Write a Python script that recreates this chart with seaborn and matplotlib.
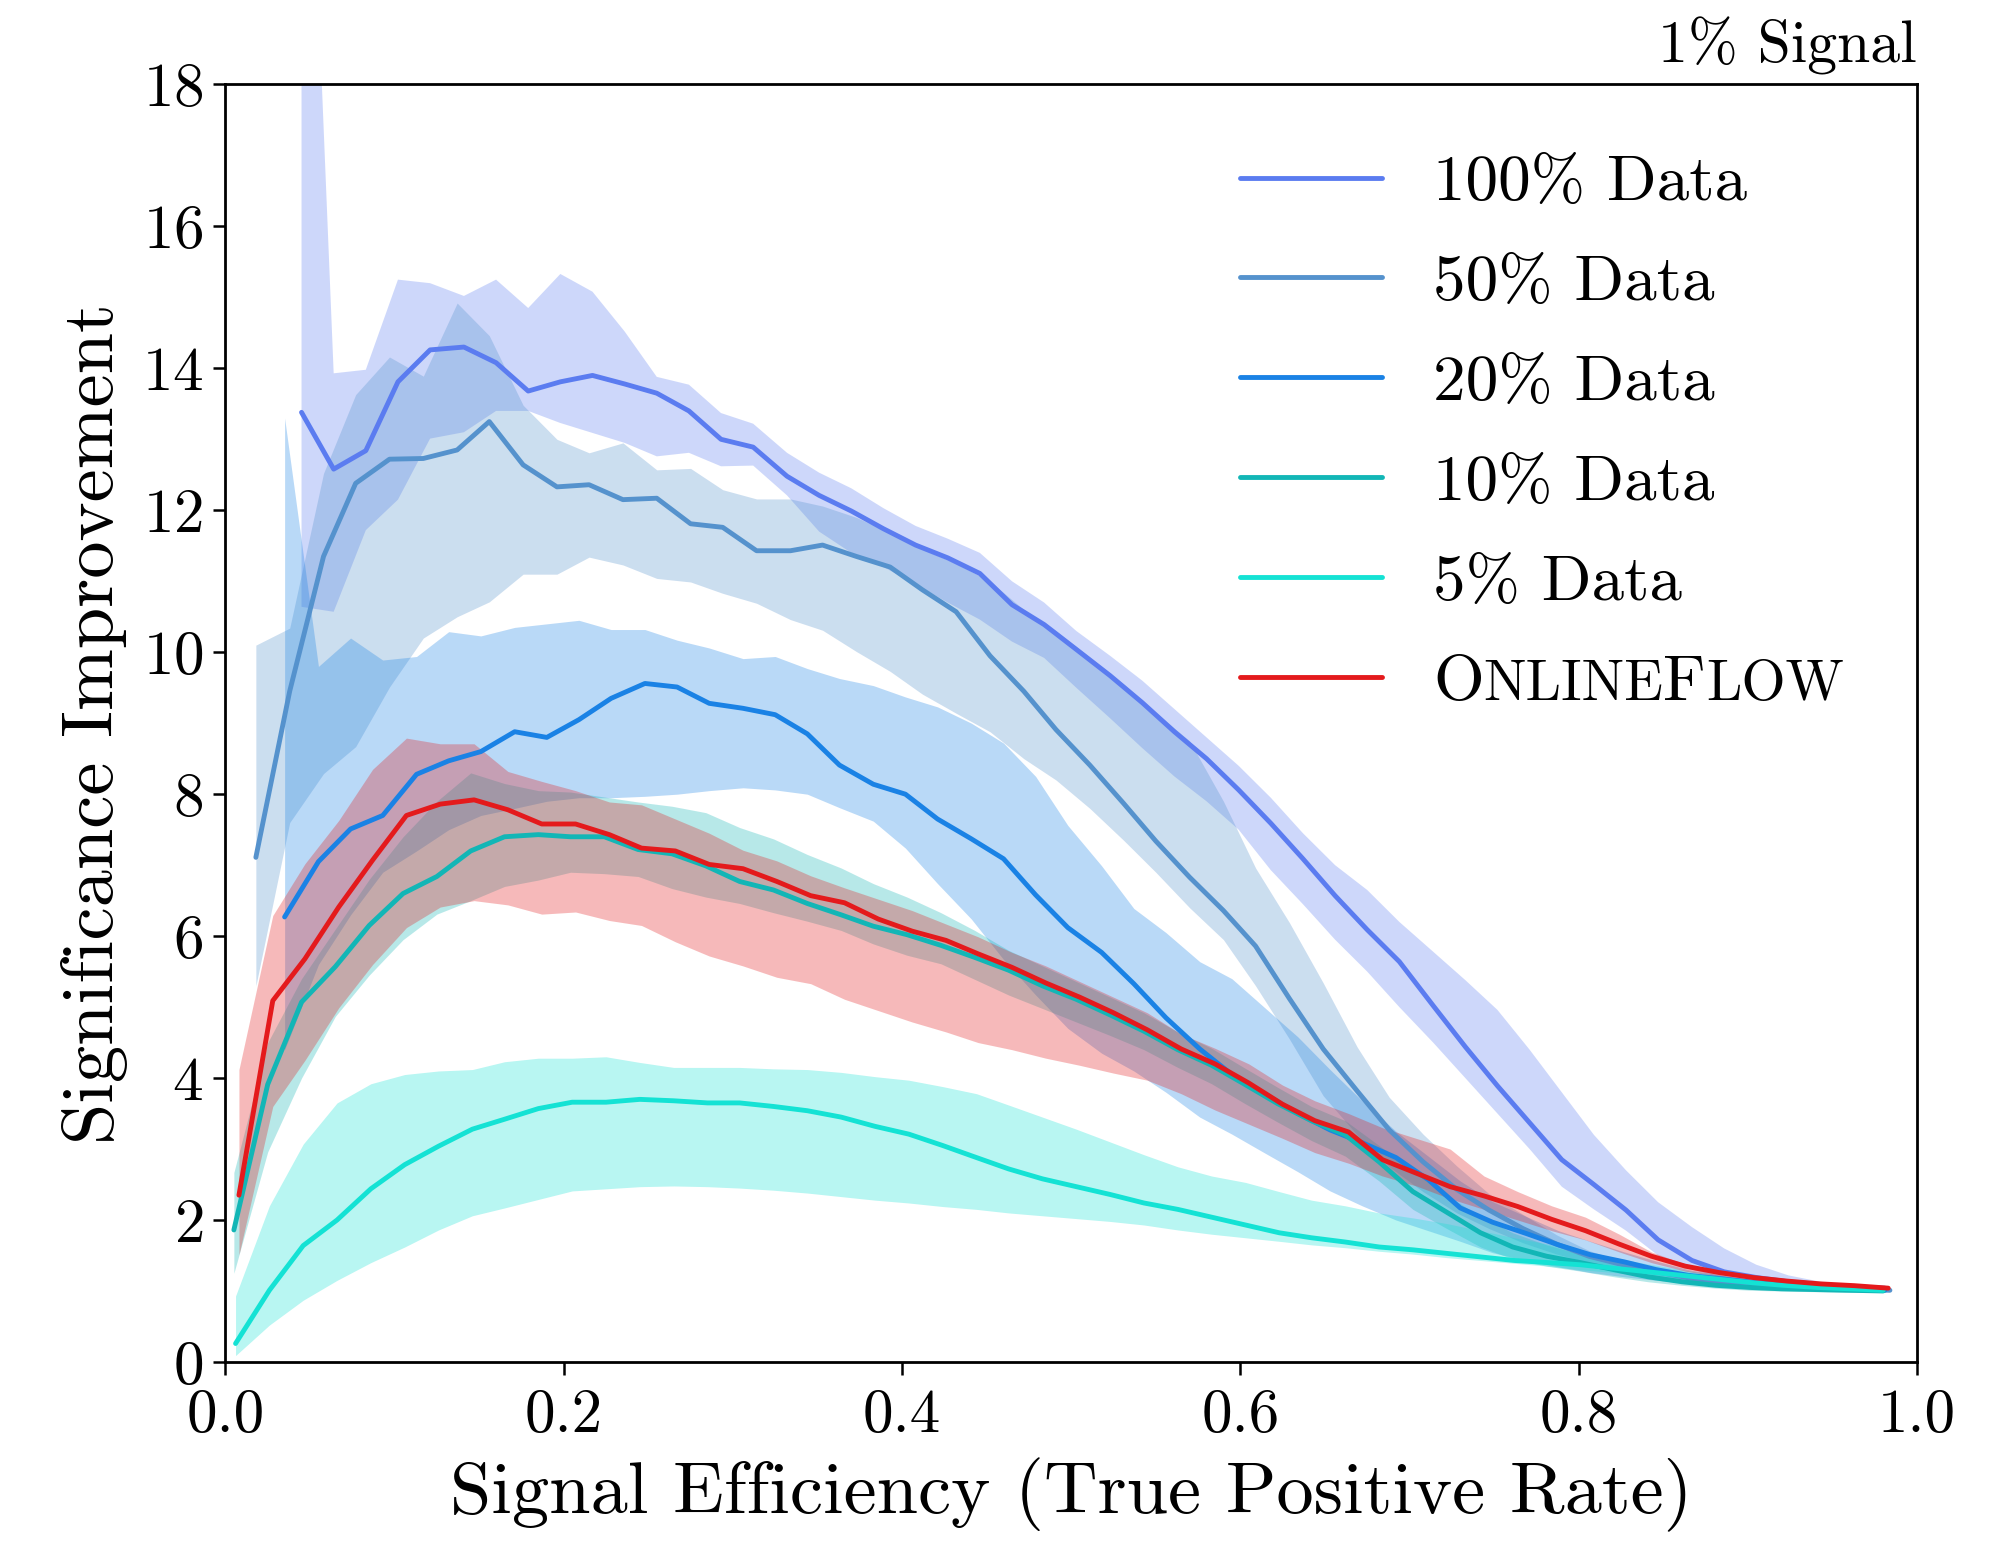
import matplotlib
matplotlib.use("Agg")
import matplotlib.pyplot as plt
from matplotlib.lines import Line2D
from matplotlib.ticker import FormatStrFormatter
import seaborn as sns

# ---- significance improvement vs. signal efficiency, per training fraction ----
x_100 = [0.045, 0.064, 0.083, 0.102, 0.121, 0.141, 0.160, 0.179, 0.198, 0.217, 0.236, 0.255, 0.274,
         0.293, 0.312, 0.332, 0.351, 0.370, 0.389, 0.408, 0.427, 0.446, 0.465, 0.484, 0.503, 0.523,
         0.542, 0.561, 0.580, 0.599, 0.618, 0.637, 0.656, 0.675, 0.694, 0.714, 0.733, 0.752, 0.771,
         0.790, 0.809, 0.828, 0.847, 0.867, 0.886, 0.905, 0.924, 0.943, 0.962, 0.981]
mean_100 = [13.38, 12.58, 12.84, 13.81, 14.26, 14.30, 14.08, 13.68, 13.81, 13.90, 13.78, 13.65, 13.40,
            13.00, 12.89, 12.48, 12.21, 11.99, 11.74, 11.51, 11.33, 11.11, 10.67, 10.39, 10.04, 9.67,
            9.29, 8.88, 8.50, 8.06, 7.59, 7.09, 6.57, 6.09, 5.64, 5.02, 4.44, 3.89, 3.37,
            2.85, 2.50, 2.14, 1.72, 1.43, 1.27, 1.19, 1.13, 1.09, 1.06, 1.04]
hi_100 = [25.0, 13.93, 13.98, 15.25, 15.20, 15.02, 15.25, 14.85, 15.33, 15.08, 14.52, 13.88, 13.77,
          13.37, 13.22, 12.81, 12.53, 12.31, 12.03, 11.78, 11.60, 11.40, 11.00, 10.70, 10.30, 9.95,
          9.60, 9.20, 8.80, 8.40, 7.95, 7.45, 7.00, 6.65, 6.20, 5.78, 5.38, 4.96, 4.40,
          3.80, 3.20, 2.70, 2.25, 1.90, 1.60, 1.37, 1.22, 1.13, 1.08, 1.05]
lo_100 = [10.64, 10.57, 11.72, 12.15, 13.01, 13.10, 13.40, 13.40, 13.23, 13.09, 12.95, 12.76, 12.81,
          12.62, 12.63, 12.21, 11.70, 11.40, 11.20, 10.96, 10.70, 10.46, 10.15, 9.92, 9.50, 9.07,
          8.65, 8.25, 7.90, 7.50, 6.93, 6.45, 5.95, 5.50, 5.00, 4.50, 4.00, 3.50, 3.00,
          2.47, 2.15, 1.85, 1.50, 1.30, 1.18, 1.12, 1.08, 1.06, 1.04, 1.02]

x_50 = [0.018, 0.038, 0.058, 0.077, 0.097, 0.117, 0.137, 0.156, 0.176, 0.196, 0.215, 0.235, 0.255,
        0.275, 0.294, 0.314, 0.334, 0.353, 0.373, 0.393, 0.412, 0.432, 0.452, 0.472, 0.491, 0.511,
        0.531, 0.550, 0.570, 0.590, 0.609, 0.629, 0.649, 0.669, 0.688, 0.708, 0.728, 0.747, 0.767,
        0.787, 0.806, 0.826, 0.846, 0.866, 0.885, 0.905, 0.925, 0.944, 0.964, 0.984]
mean_50 = [7.11, 9.45, 11.35, 12.38, 12.72, 12.73, 12.85, 13.25, 12.64, 12.33, 12.36, 12.15, 12.17,
           11.81, 11.76, 11.43, 11.43, 11.51, 11.35, 11.20, 10.88, 10.57, 9.95, 9.45, 8.91, 8.41,
           7.87, 7.34, 6.83, 6.36, 5.86, 5.12, 4.41, 3.82, 3.27, 2.82, 2.43, 2.14, 1.88,
           1.66, 1.49, 1.37, 1.27, 1.18, 1.12, 1.08, 1.05, 1.03, 1.02, 1.01]
hi_50 = [10.10, 10.34, 12.52, 13.63, 14.16, 13.89, 14.92, 14.46, 13.48, 13.00, 12.81, 12.95, 12.57,
         12.59, 12.29, 12.16, 12.16, 12.06, 11.90, 11.68, 11.45, 11.25, 11.00, 10.60, 10.30, 9.93,
         9.55, 9.15, 8.75, 7.90, 6.96, 6.19, 5.34, 4.44, 3.73, 3.21, 2.76, 2.37, 2.08,
         1.79, 1.57, 1.42, 1.32, 1.22, 1.15, 1.10, 1.06, 1.04, 1.03, 1.02]
lo_50 = [5.30, 7.60, 8.29, 8.67, 9.51, 10.20, 10.50, 10.71, 11.10, 11.10, 11.34, 11.23, 11.04,
         10.99, 10.83, 10.69, 10.46, 10.31, 10.01, 9.73, 9.41, 9.14, 8.88, 8.50, 8.20, 7.80,
         7.35, 6.90, 6.40, 5.95, 5.30, 4.55, 3.75, 3.20, 2.75, 2.40, 2.10, 1.88, 1.68,
         1.52, 1.40, 1.30, 1.21, 1.14, 1.09, 1.06, 1.04, 1.02, 1.01, 1.00]

x_20 = [0.035, 0.055, 0.074, 0.093, 0.113, 0.132, 0.151, 0.171, 0.190, 0.209, 0.228, 0.248, 0.267,
        0.286, 0.306, 0.325, 0.344, 0.363, 0.383, 0.402, 0.421, 0.441, 0.460, 0.479, 0.498, 0.518,
        0.537, 0.556, 0.576, 0.595, 0.614, 0.634, 0.653, 0.672, 0.692, 0.711, 0.730, 0.749, 0.769,
        0.788, 0.807, 0.827, 0.846, 0.865, 0.885, 0.904, 0.923, 0.943, 0.962, 0.981]
mean_20 = [6.27, 7.05, 7.51, 7.70, 8.28, 8.47, 8.60, 8.88, 8.80, 9.05, 9.35, 9.56, 9.51,
           9.28, 9.21, 9.12, 8.85, 8.41, 8.14, 8.00, 7.65, 7.37, 7.09, 6.58, 6.12, 5.77,
           5.33, 4.85, 4.41, 4.05, 3.78, 3.50, 3.27, 3.09, 2.88, 2.57, 2.17, 1.97, 1.81,
           1.65, 1.51, 1.41, 1.30, 1.22, 1.17, 1.12, 1.08, 1.05, 1.03, 1.01]
hi_20 = [13.30, 9.80, 10.20, 9.89, 9.94, 10.29, 10.23, 10.35, 10.40, 10.45, 10.32, 10.32, 10.17,
         10.06, 9.91, 9.94, 9.77, 9.63, 9.53, 9.37, 9.23, 9.00, 8.72, 8.25, 7.56, 6.99,
         6.39, 6.05, 5.64, 5.40, 5.00, 4.58, 4.12, 3.68, 3.25, 2.90, 2.55, 2.26, 2.05,
         1.85, 1.70, 1.55, 1.42, 1.30, 1.22, 1.14, 1.09, 1.06, 1.04, 1.02]
lo_20 = [4.40, 5.60, 6.30, 6.90, 7.20, 7.50, 7.70, 7.80, 7.90, 7.95, 7.95, 7.97, 8.00,
         8.05, 8.09, 8.06, 8.00, 7.81, 7.62, 7.24, 6.74, 6.24, 5.67, 5.17, 4.70, 4.35,
         4.10, 3.80, 3.45, 3.21, 2.95, 2.68, 2.41, 2.20, 2.00, 1.85, 1.70, 1.54, 1.43,
         1.34, 1.26, 1.20, 1.15, 1.11, 1.08, 1.05, 1.03, 1.02, 1.01, 1.00]

x_10 = [0.005, 0.025, 0.045, 0.065, 0.085, 0.105, 0.125, 0.145, 0.165, 0.185, 0.204, 0.224, 0.244,
        0.264, 0.284, 0.304, 0.324, 0.344, 0.364, 0.383, 0.403, 0.423, 0.443, 0.463, 0.483, 0.503,
        0.523, 0.543, 0.563, 0.583, 0.602, 0.622, 0.642, 0.662, 0.682, 0.702, 0.722, 0.742, 0.761,
        0.781, 0.801, 0.821, 0.841, 0.861, 0.881, 0.901, 0.920, 0.940, 0.960, 0.980]
mean_10 = [1.86, 3.91, 5.07, 5.57, 6.15, 6.60, 6.84, 7.20, 7.40, 7.43, 7.40, 7.40, 7.22,
           7.16, 6.99, 6.77, 6.65, 6.46, 6.30, 6.14, 6.02, 5.87, 5.70, 5.52, 5.30, 5.11,
           4.89, 4.66, 4.40, 4.18, 3.92, 3.64, 3.40, 3.20, 2.82, 2.40, 2.11, 1.82, 1.62,
           1.49, 1.40, 1.30, 1.20, 1.13, 1.08, 1.05, 1.03, 1.02, 1.01, 1.00]
hi_10 = [2.67, 4.50, 5.40, 6.10, 6.80, 7.40, 7.90, 8.30, 8.15, 8.05, 8.03, 7.96, 7.89,
         7.83, 7.74, 7.53, 7.37, 7.15, 6.96, 6.74, 6.55, 6.33, 6.08, 5.80, 5.58, 5.36,
         5.14, 4.92, 4.65, 4.42, 4.15, 3.87, 3.60, 3.40, 3.05, 2.70, 2.35, 2.05, 1.82,
         1.65, 1.52, 1.40, 1.28, 1.18, 1.11, 1.07, 1.04, 1.02, 1.01, 1.00]
lo_10 = [1.25, 2.96, 4.00, 4.87, 5.45, 5.95, 6.31, 6.50, 6.70, 6.79, 6.90, 6.88, 6.84,
         6.67, 6.55, 6.46, 6.33, 6.21, 6.08, 5.89, 5.73, 5.61, 5.39, 5.17, 4.98, 4.79,
         4.60, 4.40, 4.15, 3.92, 3.65, 3.38, 3.12, 2.90, 2.55, 2.15, 1.88, 1.62, 1.45,
         1.35, 1.28, 1.20, 1.13, 1.08, 1.04, 1.01, 1.00, 0.99, 0.98, 0.98]

x_5 = [0.006, 0.026, 0.046, 0.066, 0.086, 0.106, 0.126, 0.146, 0.165, 0.185, 0.205, 0.225, 0.245,
       0.265, 0.285, 0.304, 0.324, 0.344, 0.364, 0.384, 0.404, 0.424, 0.444, 0.463, 0.483, 0.503,
       0.523, 0.543, 0.563, 0.583, 0.603, 0.623, 0.642, 0.662, 0.682, 0.702, 0.722, 0.742, 0.762,
       0.782, 0.801, 0.821, 0.841, 0.861, 0.881, 0.901, 0.921, 0.941, 0.961, 0.980]
mean_5 = [0.26, 1.01, 1.64, 2.00, 2.44, 2.78, 3.04, 3.28, 3.42, 3.57, 3.66, 3.66, 3.70,
          3.68, 3.65, 3.65, 3.60, 3.54, 3.45, 3.32, 3.21, 3.05, 2.88, 2.72, 2.58, 2.47,
          2.36, 2.24, 2.15, 2.04, 1.93, 1.82, 1.75, 1.69, 1.62, 1.58, 1.53, 1.48, 1.43,
          1.40, 1.37, 1.32, 1.27, 1.22, 1.17, 1.12, 1.08, 1.05, 1.03, 1.01]
hi_5 = [0.93, 2.20, 3.07, 3.65, 3.92, 4.05, 4.10, 4.12, 4.23, 4.28, 4.28, 4.30, 4.22,
        4.15, 4.15, 4.15, 4.13, 4.12, 4.08, 4.02, 3.97, 3.88, 3.78, 3.62, 3.45, 3.28,
        3.10, 2.92, 2.75, 2.62, 2.53, 2.40, 2.28, 2.20, 2.10, 2.03, 1.95, 1.85, 1.75,
        1.66, 1.56, 1.47, 1.38, 1.30, 1.23, 1.17, 1.12, 1.08, 1.05, 1.03]
lo_5 = [0.09, 0.52, 0.87, 1.15, 1.40, 1.62, 1.86, 2.06, 2.17, 2.29, 2.41, 2.44, 2.47,
        2.48, 2.47, 2.45, 2.42, 2.38, 2.33, 2.28, 2.24, 2.19, 2.15, 2.10, 2.06, 2.02,
        1.98, 1.93, 1.86, 1.80, 1.75, 1.70, 1.65, 1.61, 1.56, 1.52, 1.47, 1.43, 1.39,
        1.35, 1.30, 1.26, 1.21, 1.17, 1.13, 1.09, 1.06, 1.03, 1.01, 1.00]

x_of = [0.008, 0.028, 0.047, 0.067, 0.087, 0.107, 0.127, 0.147, 0.167, 0.187, 0.207, 0.227, 0.246,
        0.266, 0.286, 0.306, 0.326, 0.346, 0.366, 0.386, 0.406, 0.426, 0.445, 0.465, 0.485, 0.505,
        0.525, 0.545, 0.565, 0.585, 0.605, 0.625, 0.644, 0.664, 0.684, 0.704, 0.724, 0.744, 0.764,
        0.784, 0.804, 0.824, 0.843, 0.863, 0.883, 0.903, 0.923, 0.943, 0.963, 0.983]
mean_of = [2.35, 5.09, 5.68, 6.41, 7.07, 7.70, 7.86, 7.92, 7.78, 7.58, 7.58, 7.43, 7.24,
           7.20, 7.01, 6.95, 6.77, 6.57, 6.47, 6.24, 6.07, 5.94, 5.75, 5.56, 5.34, 5.14,
           4.92, 4.68, 4.41, 4.20, 3.93, 3.63, 3.40, 3.24, 2.85, 2.66, 2.47, 2.34, 2.19,
           2.01, 1.85, 1.66, 1.49, 1.35, 1.26, 1.19, 1.14, 1.10, 1.075, 1.04]
hi_of = [4.12, 6.29, 7.02, 7.63, 8.35, 8.79, 8.71, 8.71, 8.32, 8.18, 8.05, 7.89, 7.85,
         7.65, 7.45, 7.21, 7.06, 6.85, 6.68, 6.52, 6.36, 6.17, 5.99, 5.77, 5.58, 5.36,
         5.14, 4.92, 4.62, 4.42, 4.20, 3.90, 3.68, 3.50, 3.30, 3.15, 3.00, 2.62, 2.40,
         2.20, 2.04, 1.80, 1.55, 1.38, 1.28, 1.20, 1.15, 1.11, 1.08, 1.05]
lo_of = [1.51, 3.60, 4.25, 4.99, 5.60, 6.12, 6.41, 6.50, 6.44, 6.31, 6.34, 6.22, 6.15,
         5.92, 5.72, 5.58, 5.42, 5.33, 5.11, 4.95, 4.79, 4.65, 4.50, 4.40, 4.28, 4.18,
         4.07, 3.97, 3.78, 3.55, 3.35, 3.15, 2.95, 2.80, 2.62, 2.48, 2.30, 2.15, 2.00,
         1.85, 1.72, 1.55, 1.40, 1.28, 1.20, 1.15, 1.12, 1.09, 1.06, 1.03]

labels = ["100% Data", "50% Data", "20% Data", "10% Data", "5% Data", "OnlineFlow"]
colors = ["#5b7cf0", "#5592cd", "#1a82e5", "#12b6b6", "#14e2d4", "#e41a1c"]
series = [
    (x_100, mean_100, lo_100, hi_100),
    (x_50, mean_50, lo_50, hi_50),
    (x_20, mean_20, lo_20, hi_20),
    (x_10, mean_10, lo_10, hi_10),
    (x_5, mean_5, lo_5, hi_5),
    (x_of, mean_of, lo_of, hi_of),
]

sns.set_theme(style="ticks")
plt.rcParams.update({
    "font.family": ["cmr10", "DejaVu Serif"],
    "mathtext.fontset": "cm",
    "axes.formatter.use_mathtext": True,
    "axes.edgecolor": "black",
    "axes.linewidth": 1.0,
    "text.color": "black",
    "axes.labelcolor": "black",
    "xtick.color": "black",
    "ytick.color": "black",
    "xtick.major.size": 4.5,
    "ytick.major.size": 4.5,
    "xtick.major.width": 0.9,
    "ytick.major.width": 0.9,
})

fig = plt.figure(figsize=(10.045, 7.72), dpi=200)
ax = fig.add_axes([0.1122, 0.1179, 0.8420, 0.8274])

LW = 1.75
for (xs, m, lo, hi), c in zip(series, colors):
    ax.fill_between(xs, lo, hi, color=c, alpha=0.3, linewidth=0)
    sns.lineplot(x=xs, y=m, color=c, linewidth=LW, ax=ax, sort=False)

ax.set_xlim(0, 1)
ax.set_ylim(0, 18)
ax.set_xticks([0.0, 0.2, 0.4, 0.6, 0.8, 1.0])
ax.set_yticks(range(0, 19, 2))
ax.xaxis.set_major_formatter(FormatStrFormatter("%.1f"))
ax.tick_params(labelsize=22)
ax.tick_params(axis="x", pad=5)
ax.set_xlabel("Signal Efficiency (True Positive Rate)", fontsize=26.8, labelpad=5)
ax.set_ylabel("Significance Improvement", fontsize=26.8, labelpad=5)
ax.set_title("1% Signal", loc="right", fontsize=21.5, pad=8)

FS = 23.5
handles = [Line2D([], [], color=c, linewidth=LW) for c in colors]
leg_labels = labels[:-1] + [""]
leg = ax.legend(handles, leg_labels, loc="upper left", bbox_to_anchor=(0.600, 0.945),
                frameon=False, fontsize=FS, handlelength=2.17, handletextpad=0.78,
                labelspacing=0.63, borderpad=0, borderaxespad=0)

# small-caps rendering of the method name next to the last legend handle
anchor = leg.get_texts()[-1]
small = FS * 0.87
prev = None
for text, size in [("O", FS), ("NLINE", small), ("F", FS), ("LOW", small)]:
    if prev is None:
        prev = ax.annotate(text, xy=(0, 0), xycoords=anchor, fontsize=size,
                           va="baseline", ha="left", zorder=10, annotation_clip=False)
    else:
        prev = ax.annotate(text, xy=(1, 0), xycoords=(prev, anchor), fontsize=size,
                           va="baseline", ha="left", zorder=10, annotation_clip=False)

fig.savefig("out.png", dpi=200)
